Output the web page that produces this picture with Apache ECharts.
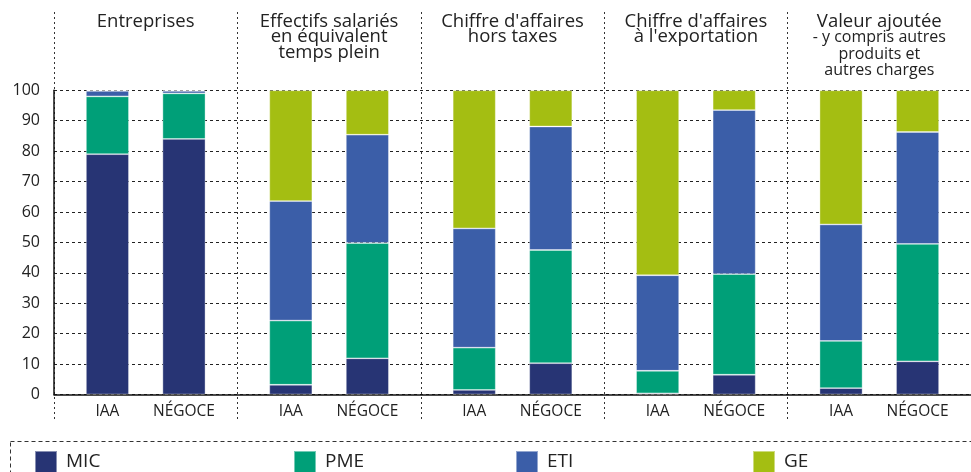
<!DOCTYPE html>
<html>
<head>
<meta charset="utf-8">
<script src="https://cdn.jsdelivr.net/npm/echarts@6/dist/echarts.min.js"></script>
<style>
html,body{margin:0;padding:0;background:#fff;}
#chart{width:971px;height:472px;}
</style>
</head>
<body>
<div id="chart"></div>
<script>
// ---- Data ----
const groupTitles = ['Entreprises', 'Effectifs salariés\nen équivalent\ntemps plein', "Chiffre d'affaires\nhors taxes", "Chiffre d'affaires\nà l'exportation", 'Valeur ajoutée'];
const groupNotes = ['', '', '', '', '- y compris autres\nproduits et\nautres charges'];
const subCategories = ['IAA', 'NÉGOCE'];
const classNames = ['MIC', 'PME', 'ETI', 'GE'];
const yTicks = [0, 10, 20, 30, 40, 50, 60, 70, 80, 90, 100];

// IAA values per group
const micIAA = [79.0, 3.2, 1.5, 0.4, 2.1];
const pmeIAA = [19.0, 21.1, 13.9, 7.4, 15.5];
const etiIAA = [1.8, 39.3, 39.2, 31.4, 38.3];
const geIAA  = [0.2, 36.4, 45.4, 60.8, 44.1];
// NÉGOCE values per group
const micNEG = [84.0, 11.9, 10.3, 6.5, 10.9];
const pmeNEG = [15.0, 37.9, 37.2, 33.1, 38.6];
const etiNEG = [0.8, 35.6, 40.6, 53.9, 36.8];
const geNEG  = [0.2, 14.6, 11.9, 6.5, 13.7];

const colors = {MIC: '#273474', PME: '#009F78', ETI: '#3B5EA8', GE: '#A4BE12'};

const valuesIAA = {MIC: micIAA, PME: pmeIAA, ETI: etiIAA, GE: geIAA};
const valuesNEG = {MIC: micNEG, PME: pmeNEG, ETI: etiNEG, GE: geNEG};

const FONT = '"Open Sans", "Noto Sans", sans-serif';

const series = [];
classNames.forEach(function (cls) {
  [[subCategories[0], valuesIAA, 'IAA'], [subCategories[1], valuesNEG, 'NEG']].forEach(function (s) {
    const isBottom = cls === 'MIC';
    series.push({
      name: cls,
      type: 'bar',
      stack: s[2],
      xAxisIndex: 0,
      yAxisIndex: 0,
      barWidth: 43,
      barGap: '78%',
      data: s[1][cls],
      itemStyle: {color: colors[cls], borderColor: 'rgba(255,255,255,0.45)', borderWidth: 0.8},
      label: isBottom ? {
        show: true,
        position: 'bottom',
        distance: 9,
        formatter: s[0],
        fontFamily: FONT,
        fontSize: 15.5,
        color: '#222'
      } : {show: false},
      emphasis: {disabled: true}
    });
  });
});

const legendLefts = [34, 293, 515, 752];
const legends = classNames.map(function (cls, i) {
  return {
    data: [cls],
    left: legendLefts[i],
    top: 450,
    padding: 0,
    itemWidth: 22,
    itemHeight: 22,
    icon: 'rect',
    textStyle: {fontFamily: FONT, fontSize: 19, color: '#222', padding: [0, 0, 0, 4]}
  };
});

const chart = echarts.init(document.getElementById('chart'), null, {renderer: 'canvas'});
chart.setOption({
  animation: false,
  backgroundColor: '#fff',
  textStyle: {fontFamily: FONT},
  grid: [
    {left: 54, top: 90.3, width: 920, height: 304.2},
    {left: 54, top: 12, width: 920, height: 410}
  ],
  xAxis: [
    {
      type: 'category', gridIndex: 0, position: 'bottom', data: groupTitles,
      axisLine: {show: true, lineStyle: {color: '#111', width: 1.5}},
      axisTick: {show: false}, axisLabel: {show: false}, splitLine: {show: false}
    },
    {
      type: 'category', gridIndex: 0, position: 'top', data: groupTitles,
      axisLine: {show: false}, axisTick: {show: false}, splitLine: {show: false},
      axisLabel: {
        show: true, interval: 0, margin: 76.5, verticalAlign: 'top', align: 'center',
        formatter: function (v, idx) {
          let out = v.split('\n').map(function (l) { return '{a|' + l + '}'; });
          if (groupNotes[idx]) {
            out = out.concat(groupNotes[idx].split('\n').map(function (l) { return '{b|' + l + '}'; }));
          }
          return out.join('\n');
        },
        rich: {
          a: {fontFamily: FONT, fontSize: 18.5, lineHeight: 15.5, color: '#222'},
          b: {fontFamily: FONT, fontSize: 16, lineHeight: 16.5, color: '#222'}
        }
      }
    },
    {
      type: 'category', gridIndex: 1, data: groupTitles,
      axisLine: {show: false}, axisTick: {show: false}, axisLabel: {show: false},
      splitLine: {show: true, interval: 0, lineStyle: {color: '#333', width: 1, type: [2, 3]}}
    }
  ],
  yAxis: [
    {
      type: 'value', gridIndex: 0, min: yTicks[0], max: yTicks[yTicks.length - 1], interval: 10,
      axisLine: {show: true, lineStyle: {color: '#111', width: 1.5}},
      axisTick: {show: false},
      axisLabel: {margin: 14, fontFamily: FONT, fontSize: 16, color: '#222'},
      splitLine: {show: true, lineStyle: {color: '#222', width: 1, type: [3, 3]}}
    },
    {type: 'value', gridIndex: 1, show: false, splitLine: {show: false}}
  ],
  legend: legends,
  graphic: [
    {
      type: 'rect', silent: true,
      shape: {x: 10.5, y: 441.5, width: 990, height: 80},
      style: {fill: 'none', stroke: '#333', lineWidth: 1, lineDash: [4, 3]}
    }
  ],
  series: series
});
</script>
</body>
</html>
